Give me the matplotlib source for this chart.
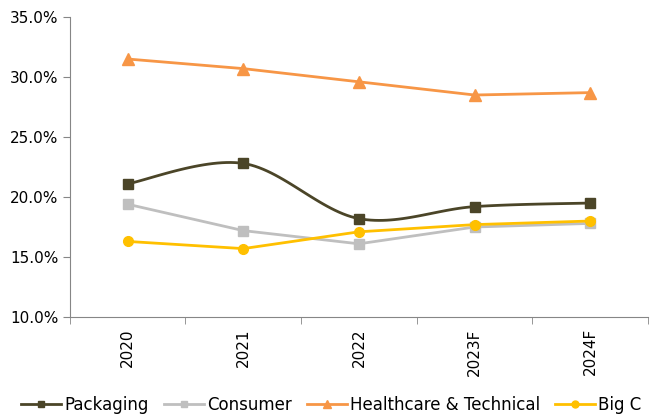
import numpy as np
import matplotlib
matplotlib.use("Agg")
import matplotlib.pyplot as plt
from matplotlib.ticker import FuncFormatter, FixedLocator

categories = ["2020", "2021", "2022", "2023F", "2024F"]
packaging = [21.1, 22.8, 18.2, 19.2, 19.5]
consumer = [19.4, 17.2, 16.1, 17.5, 17.8]
healthcare = [31.5, 30.7, 29.6, 28.5, 28.7]
big_c = [16.3, 15.7, 17.1, 17.7, 18.0]

plt.rcParams['font.family'] = ['DejaVu Sans']

fig = plt.figure(figsize=(6.52, 4.19), dpi=100)
ax = fig.add_axes([0.107, 0.2434, 0.887, 0.716])

x = np.arange(len(categories))


def catmull(xs, ys, n=30):
    xs = np.asarray(xs, float); ys = np.asarray(ys, float)
    px = np.concatenate([[xs[0]], xs, [xs[-1]]])
    py = np.concatenate([[ys[0]], ys, [ys[-1]]])
    ox, oy = [], []
    for i in range(1, len(px) - 2):
        p0 = np.array([px[i - 1], py[i - 1]]); p1 = np.array([px[i], py[i]])
        p2 = np.array([px[i + 1], py[i + 1]]); p3 = np.array([px[i + 2], py[i + 2]])
        c1 = p1 + (p2 - p0) / 6.0
        c2 = p2 - (p3 - p1) / 6.0
        t = np.linspace(0, 1, n)[:, None]
        pts = ((1 - t) ** 3) * p1 + 3 * ((1 - t) ** 2) * t * c1 + 3 * (1 - t) * t ** 2 * c2 + t ** 3 * p2
        ox.extend(pts[:, 0]); oy.extend(pts[:, 1])
    return ox, oy


c_pack = "#4B4528"
c_cons = "#BFBFBF"
c_hc = "#F79646"
c_bc = "#FFC000"

sx, sy = catmull(x, packaging)
ax.plot(sx, sy, color=c_pack, lw=2, zorder=3)
ax.plot(x, packaging, ls="none", marker="s", ms=7, color=c_pack, zorder=4)
ax.plot([], [], color=c_pack, lw=2, marker="s", ms=5, label="Packaging")

ax.plot(x, consumer, color=c_cons, lw=2, marker="s", ms=7, zorder=3)
ax.plot([], [], color=c_cons, lw=2, marker="s", ms=5, label="Consumer")

ax.plot(x, healthcare, color=c_hc, lw=2, marker="^", ms=8, zorder=3)
ax.plot([], [], color=c_hc, lw=2, marker="^", ms=6, label="Healthcare & Technical")

ax.plot(x, big_c, color=c_bc, lw=2, marker="o", ms=7, zorder=5)
ax.plot([], [], color=c_bc, lw=2, marker="o", ms=5, label="Big C")

ax.set_xlim(-0.5, len(categories) - 0.5)
ax.set_ylim(10, 35)
ax.set_yticks(np.arange(10, 35.1, 5))
ax.yaxis.set_major_formatter(FuncFormatter(lambda v, p: f"{v:.1f}%"))
ax.set_xticks(x)
ax.set_xticklabels(categories, rotation=90)
ax.xaxis.set_minor_locator(FixedLocator(np.arange(-0.5, len(categories), 1)))
ax.tick_params(axis="x", which="major", length=0, pad=8, labelsize=11)
ax.tick_params(axis="x", which="minor", length=5, color="#868686")
ax.tick_params(axis="y", length=5, color="#868686", labelsize=11, pad=3)

for s in ["top", "right"]:
    ax.spines[s].set_visible(False)
for s in ["left", "bottom"]:
    ax.spines[s].set_color("#868686")

leg = fig.legend(loc="center", bbox_to_anchor=(0.508, 0.034), ncol=4, frameon=False,
                 fontsize=12, handlelength=2.4, handletextpad=0.2, columnspacing=0.9,
                 borderpad=0, borderaxespad=0)

fig.savefig("out.png", dpi=100)
